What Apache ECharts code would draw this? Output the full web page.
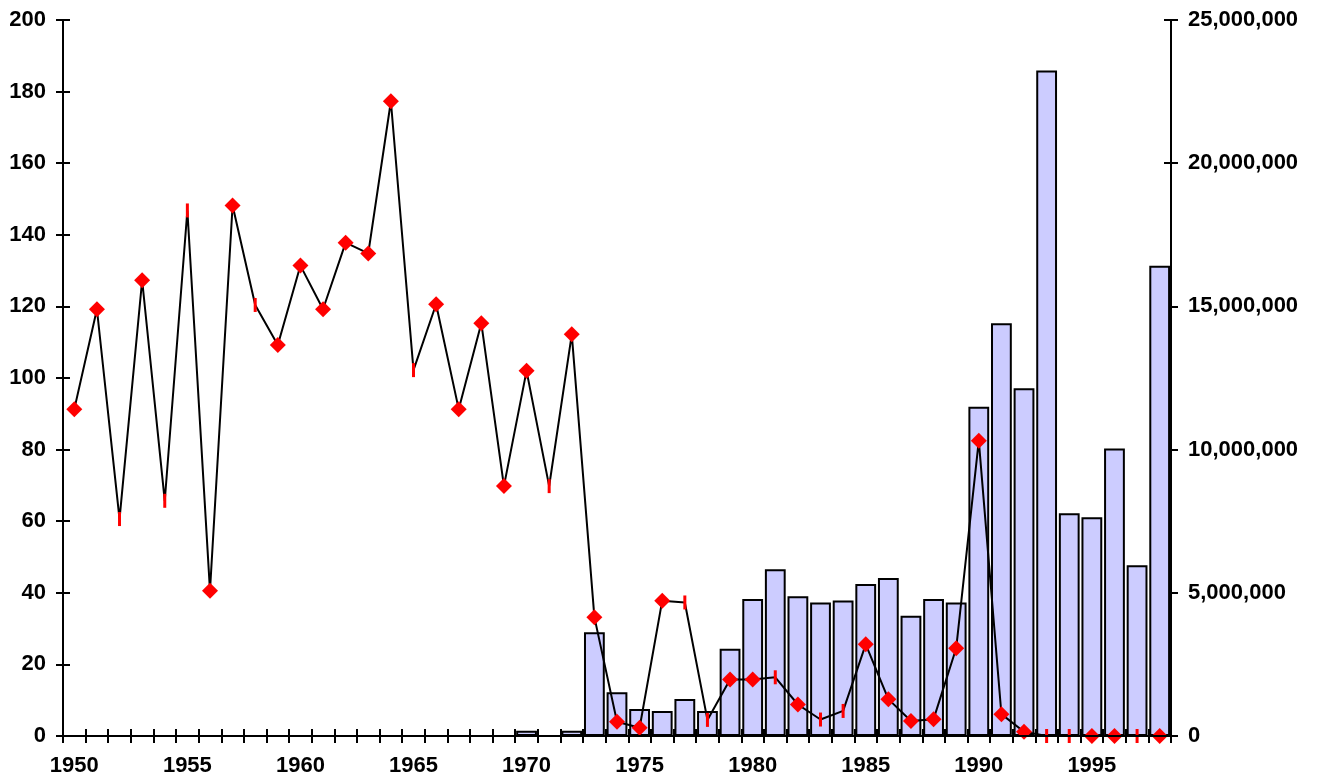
<!DOCTYPE html>
<html>
<head>
<meta charset="utf-8">
<script src="https://cdn.jsdelivr.net/npm/echarts@6/dist/echarts.min.js"></script>
<style>
html,body{margin:0;padding:0;background:#fff;}
#chart{width:1320px;height:782px;}
</style>
</head>
<body>
<div id="chart"></div>
<script>
const years = ['1950','1951','1952','1953','1954','1955','1956','1957','1958','1959',
  '1960','1961','1962','1963','1964','1965','1966','1967','1968','1969',
  '1970','1971','1972','1973','1974','1975','1976','1977','1978','1979',
  '1980','1981','1982','1983','1984','1985','1986','1987','1988','1989',
  '1990','1991','1992','1993','1994','1995','1996','1997','1998'];

// left axis series (line)
const lineValues = [91.3,119.2,60.6,127.3,65.7,146.8,40.6,148.2,120.4,109.2,
  131.4,119.2,137.8,134.8,177.3,102.2,120.6,91.3,115.3,69.8,
  102,69.8,112.2,33.2,4.0,2.3,37.8,37.3,4.5,15.8,
  15.8,16.4,8.8,4.6,7.0,25.6,10.3,4.2,4.7,24.5,
  82.5,6.1,1.2,0,0,0,0,0,0];

// years whose point is drawn with a short vertical dash instead of a diamond
const dashYears = ['1952','1954','1955','1958','1965','1971','1977','1978','1981','1983','1984','1993','1994','1997'];

// right axis series (bars)
const barValues = [null,null,null,null,null,null,null,null,null,null,
  null,null,null,null,null,null,null,null,null,null,
  180000,null,180000,3620000,1530000,940000,870000,1290000,870000,3050000,
  4780000,5820000,4880000,4660000,4730000,5310000,5520000,4200000,4780000,4660000,
  11500000,14410000,12140000,23240000,7780000,7640000,10040000,5960000,16420000];

const leftTicks = {min:0, max:200, interval:20};
const rightTicks = {min:0, max:25000000, interval:5000000};

const font = {fontFamily:'"Liberation Sans", Arial, sans-serif', fontWeight:'bold', fontSize:22, color:'#000'};
const axisLineStyle = {color:'#000', width:2};

const lineData = years.map((y,i)=>{
  const item = {value: lineValues[i]};
  if (dashYears.indexOf(y) >= 0) {
    item.symbol = 'rect';
    item.symbolSize = [3,14];
  }
  return item;
});

const chart = echarts.init(document.getElementById('chart'), null, {renderer:'canvas'});
chart.setOption({
  animation:false,
  backgroundColor:'#fff',
  grid:{left:63, right:149, top:20, bottom:46, containLabel:false},
  xAxis:[
    {type:'category', data:years, position:'bottom', boundaryGap:true,
     axisLine:{show:true, lineStyle:axisLineStyle, onZero:false},
     axisTick:{show:true, interval:0, length:7, lineStyle:{color:'#000', width:2}},
     axisLabel:Object.assign({interval:4, margin:19}, font),
     splitLine:{show:false}, z:5},
    {type:'category', data:years, position:'bottom', boundaryGap:true,
     axisLine:{show:false, onZero:false},
     axisTick:{show:true, inside:true, interval:0, length:7, lineStyle:{color:'#000', width:2}},
     axisLabel:{show:false}, splitLine:{show:false}, z:5}
  ],
  yAxis:[
    Object.assign({type:'value', position:'left',
     axisLine:{show:true, lineStyle:axisLineStyle},
     axisTick:{show:true, length:7, lineStyle:{color:'#000', width:2}},
     axisLabel:Object.assign({margin:17}, font),
     splitLine:{show:false}}, leftTicks),
    Object.assign({type:'value', position:'right',
     axisLine:{show:true, lineStyle:axisLineStyle},
     axisTick:{show:true, length:7, lineStyle:{color:'#000', width:2}},
     axisLabel:Object.assign({margin:17, formatter:(v)=>v.toLocaleString('en-US')}, font),
     splitLine:{show:false}}, rightTicks),
    Object.assign({type:'value', position:'left',
     axisLine:{show:false}, axisTick:{show:true, inside:true, length:7, lineStyle:{color:'#000', width:2}},
     axisLabel:{show:false}, splitLine:{show:false}}, leftTicks),
    Object.assign({type:'value', position:'right',
     axisLine:{show:false}, axisTick:{show:true, inside:true, length:7, lineStyle:{color:'#000', width:2}},
     axisLabel:{show:false}, splitLine:{show:false}}, rightTicks)
  ],
  series:[
    {type:'bar', xAxisIndex:0, yAxisIndex:1, data:barValues, barCategoryGap:'8%',
     itemStyle:{color:'#ccccff', borderColor:'#000', borderWidth:2}, z:1},
    {type:'line', xAxisIndex:0, yAxisIndex:0, data:lineData,
     symbol:'diamond', symbolSize:16, showAllSymbol:true,
     lineStyle:{color:'#000', width:2},
     itemStyle:{color:'#ff0000', borderWidth:0}, z:3}
  ]
});
</script>
</body>
</html>
